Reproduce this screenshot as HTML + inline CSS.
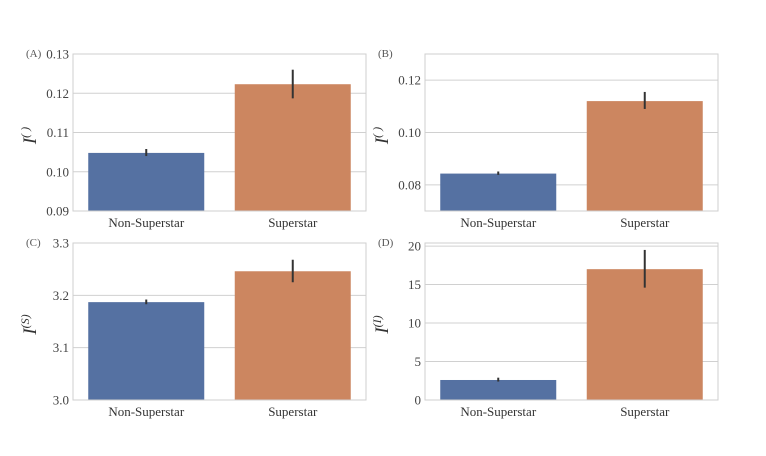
<!DOCTYPE html>
<html><head><meta charset="utf-8"><style>
body{margin:0;background:#fff;}
svg{display:block;font-family:"Liberation Serif","DejaVu Serif",serif;}
</style></head><body>
<svg id="c" width="766" height="456"></svg>
<script>
const categories=["Non-Superstar","Superstar"];
const valuesA=[0.1048,0.1223], errLoA=[0.1040,0.1187], errHiA=[0.1058,0.1260];
const valuesB=[0.0843,0.1120], errLoB=[0.0838,0.1090], errHiB=[0.0851,0.1155];
const valuesC=[3.187,3.246], errLoC=[3.183,3.225], errHiC=[3.192,3.268];
const valuesD=[2.6,17.0], errLoD=[2.4,14.6], errHiD=[2.9,19.5];
const ticksA=["0.09","0.10","0.11","0.12","0.13"];
const ticksB=["0.08","0.10","0.12"];
const ticksC=["3.0","3.1","3.2","3.3"];
const ticksD=["0","5","10","15","20"];
const NS="http://www.w3.org/2000/svg";
const svg=document.getElementById('c');
function mk(t,a,p){const e=document.createElementNS(NS,t);for(const k in a)e.setAttribute(k,a[k]);(p||svg).appendChild(e);return e;}
const colors=["#5571a2","#cc8660"];
const panels=[
 {id:"a",letter:"(A)",x:73,y:54,ymin:0.09,ymax:0.13,vals:valuesA,lo:errLoA,hi:errHiA,ticks:ticksA,lab:"I",sup:"( )"},
 {id:"b",letter:"(B)",x:425,y:54,ymin:0.07,ymax:0.13,vals:valuesB,lo:errLoB,hi:errHiB,ticks:ticksB,lab:"I",sup:"( )"},
 {id:"c",letter:"(C)",x:73,y:243,ymin:3.0,ymax:3.3,vals:valuesC,lo:errLoC,hi:errHiC,ticks:ticksC,lab:"I",sup:"(S)"},
 {id:"d",letter:"(D)",x:425,y:243,ymin:0,ymax:20.4,vals:valuesD,lo:errLoD,hi:errHiD,ticks:ticksD,lab:"I",sup:"(I)"}
];
const W=293,H=157;
panels.forEach(p=>{
 const g=mk('g',{});
 
 
 const ys=v=>p.y+H-(v-p.ymin)/(p.ymax-p.ymin)*H;
 p.ticks.forEach(t=>{
  const v=parseFloat(t),y=ys(v);
  const l=mk('line',{x1:p.x,x2:p.x+W,y1:y,y2:y,stroke:'#d0d0d0','stroke-width':1},g);
  
  
  const tx=mk('text',{x:p.x-4,y:y+4.5,'text-anchor':'end','font-size':13,fill:'#444'},g);
  tx.textContent=t;
  
  
 });
 const bw=W/2;
 categories.forEach((c,i)=>{
  const cx=p.x+bw*i+bw/2;
  const top=ys(p.vals[i]);
  const r=mk('rect',{x:cx-58,y:top,width:116,height:p.y+H-top,fill:colors[i]},g);
  
  
  const e=mk('line',{x1:cx,x2:cx,y1:ys(p.hi[i]),y2:ys(p.lo[i]),stroke:'#333','stroke-width':2},g);
  
  
  const t=mk('text',{x:cx,y:p.y+H+16,'text-anchor':'middle','font-size':13,fill:'#333'},g);
  t.textContent=c;
  
  
 });
 const fr=mk('rect',{x:p.x,y:p.y,width:W,height:H,fill:'none',stroke:'#cfcfcf','stroke-width':1},g);
 
 
 const lt=mk('text',{x:p.x-47,y:p.y+3,'font-size':11,fill:'#555'},g);
 lt.textContent=p.letter;
 
 
 const yl=mk('text',{transform:`translate(${p.x-37},${p.y+H/2+3}) rotate(-90)`,'text-anchor':'middle','font-size':19,'font-style':'italic',fill:'#333'},g);
 
 
 const m=mk('tspan',{},yl);m.textContent=p.lab;
 const s=mk('tspan',{'font-size':12,dy:-7},yl);s.textContent=p.sup;
});
</script>
</body></html>
